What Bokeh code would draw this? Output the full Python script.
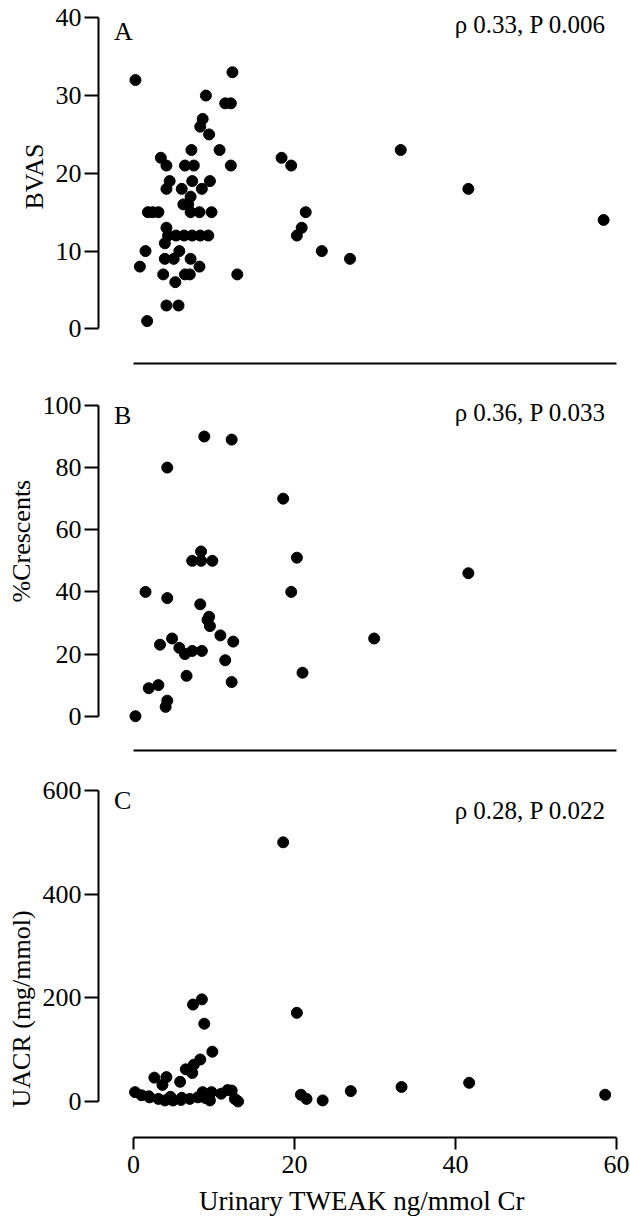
from bokeh.plotting import figure
from bokeh.models import Range1d, LinearAxis, FixedTicker, Label, Title
from bokeh.layouts import column
from bokeh.embed import file_html
from bokeh.resources import INLINE

FONT = "Liberation Serif"

# ---- data ----
x_ticks = [0, 20, 40, 60]
x_title = "Urinary TWEAK ng/mmol Cr"

# Panel A: BVAS
tweak_a = [0.25, 12.3, 9.0, 11.4, 12.1, 8.6, 8.3, 9.4, 7.2, 10.7, 3.4, 4.1, 6.4, 7.5, 12.1,
           18.4, 19.6, 33.2, 41.6, 58.4, 21.4, 20.9, 20.3, 23.4, 26.9, 4.5, 7.3, 9.5, 4.1, 6.0,
           8.5, 7.1, 6.2, 6.8, 7.1, 8.2, 9.7, 1.8, 2.4, 3.1, 4.1, 4.3, 5.3, 6.3, 7.3,
           8.3, 9.3, 3.9, 1.5, 5.7, 3.9, 5.0, 7.1, 0.8, 8.2, 3.7, 6.4, 7.0, 12.9, 5.2,
           4.1, 5.6, 1.7]
bvas = [32, 33, 30, 29, 29, 27, 26, 25, 23, 23, 22, 21, 21, 21, 21,
        22, 21, 23, 18, 14, 15, 13, 12, 10, 9, 19, 19, 19, 18, 18,
        18, 17, 16, 16, 15, 15, 15, 15, 15, 15, 13, 12, 12, 12, 12,
        12, 12, 11, 10, 10, 9, 9, 9, 8, 8, 7, 7, 7, 7, 6,
        3, 3, 1]
bvas_ticks = [0, 10, 20, 30, 40]

# Panel B: %Crescents
tweak_b = [8.8, 12.2, 4.2, 18.6, 8.4, 7.3, 8.4, 9.8, 20.3, 1.5, 19.6, 4.2, 8.3, 9.4, 9.2,
           9.5, 10.8, 4.8, 12.4, 3.3, 5.7, 6.4, 7.3, 8.5, 11.4, 6.6, 21.0, 12.2, 1.9, 3.1,
           4.2, 4.0, 0.25, 29.9, 41.6]
crescents = [90, 89, 80, 70, 53, 50, 50, 50, 51, 40, 40, 38, 36, 32, 31,
             29, 26, 25, 24, 23, 22, 20, 21, 21, 18, 13, 14, 11, 9, 10,
             5, 3, 0, 25, 46]
cres_ticks = [0, 20, 40, 60, 80, 100]

# Panel C: UACR
tweak_c = [18.6, 20.3, 8.5, 7.4, 8.8, 9.8, 8.3, 7.5, 6.5, 7.3, 2.6, 4.1, 5.8, 3.6, 0.2,
           1.0, 2.0, 3.1, 3.9, 4.9, 5.9, 7.0, 8.0, 8.6, 9.7, 9.5, 10.9, 12.2, 12.6, 13.0,
           11.7, 1.9, 4.6, 6.0, 8.9, 20.8, 21.5, 23.5, 27.0, 33.3, 41.7, 58.6]
uacr = [500, 171, 197, 187, 150, 96, 81, 71, 62, 55, 46, 47, 38, 32, 18,
        12, 8, 5, 2, 2, 3, 5, 8, 18, 18, 2, 15, 21, 5, 0,
        22, 10, 9, 7, 7, 13, 5, 2, 20, 28, 36, 13]
uacr_ticks = [0, 200, 400, 600]

stats = ["\u03c1 0.33, P 0.006", "\u03c1 0.36, P 0.033", "\u03c1 0.28, P 0.022"]
letters = ["A", "B", "C"]
y_titles = ["BVAS", "%Crescents", "UACR  (mg/mmol)"]

X_START, X_END = -4.34, 61.12


def panel(xs, ys, yticks, y_start, y_end, height, btop, bbottom,
          ytitle, ytitle_offset, letter, letter_y, stat, stat_y, show_x):
    p = figure(width=630, height=height, output_backend="svg", toolbar_location=None,
               x_range=Range1d(X_START, X_END), y_range=Range1d(y_start, y_end),
               x_axis_type=None, y_axis_type=None,
               min_border_left=97, min_border_right=5,
               min_border_top=btop, min_border_bottom=bbottom)
    p.outline_line_color = None
    p.background_fill_color = "white"
    p.border_fill_color = "white"

    ya = LinearAxis(ticker=FixedTicker(ticks=yticks), bounds=(yticks[0], yticks[-1]))
    ya.axis_line_width = 2
    ya.axis_line_color = "black"
    ya.major_tick_line_width = 2
    ya.major_tick_line_color = "black"
    ya.major_tick_out = 14
    ya.major_tick_in = 0
    ya.minor_tick_out = 0
    ya.minor_tick_in = 0
    ya.major_label_standoff = 3
    ya.major_label_text_font = FONT
    ya.major_label_text_font_size = "26px"
    ya.major_label_text_color = "black"
    p.add_layout(ya, "left")

    p.add_layout(Title(text=ytitle, align="left", offset=ytitle_offset, standoff=8,
                       text_font=FONT, text_font_size="26px",
                       text_font_style="normal", text_color="black"), "left")

    xa = LinearAxis(ticker=FixedTicker(ticks=x_ticks if show_x else []), bounds=(0, 60))
    xa.axis_line_width = 2
    xa.axis_line_color = "black"
    xa.major_tick_line_width = 2
    xa.major_tick_line_color = "black"
    xa.major_tick_out = 12
    xa.major_tick_in = 0
    xa.minor_tick_out = 0
    xa.minor_tick_in = 0
    xa.major_label_text_font = FONT
    xa.major_label_text_font_size = "26px"
    xa.major_label_text_color = "black"
    xa.major_label_standoff = 6
    if show_x:
        xa.axis_label = x_title
        xa.axis_label_text_font = FONT
        xa.axis_label_text_font_size = "27px"
        xa.axis_label_text_font_style = "normal"
        xa.axis_label_text_color = "black"
        xa.axis_label_standoff = 10
    else:
        xa.major_label_text_font_size = "0px"
    p.add_layout(xa, "below")

    p.scatter(xs, ys, size=11, fill_color="black", line_color="black")

    p.add_layout(Label(x=-2.4, y=letter_y, text=letter, text_font=FONT,
                       text_font_size="26px", text_baseline="middle",
                       text_align="left", text_color="black"))
    p.add_layout(Label(x=58.7, y=stat_y, text=stat, text_font=FONT,
                       text_font_size="25px", text_baseline="middle",
                       text_align="right", text_color="black"))
    return p


pa = panel(tweak_a, bvas, bvas_ticks, -4.46, 40.94, 380, 10, 17,
           y_titles[0], 154, letters[0], 38.2, stats[0], 39.1, False)
pb = panel(tweak_b, crescents, cres_ticks, -11.04, 104.8, 380, 10, 10,
           y_titles[1], 148, letters[1], 96.9, stats[1], 97.7, False)
pc = panel(tweak_c, uacr, uacr_ticks, -69.5, 628.9, 467, 15, 90,
           y_titles[2], 30, letters[2], 580.7, stats[2], 561, True)

layout = column(pa, pb, pc, spacing=0)

with open("out.html", "w") as f:
    f.write(file_html(layout, INLINE))
